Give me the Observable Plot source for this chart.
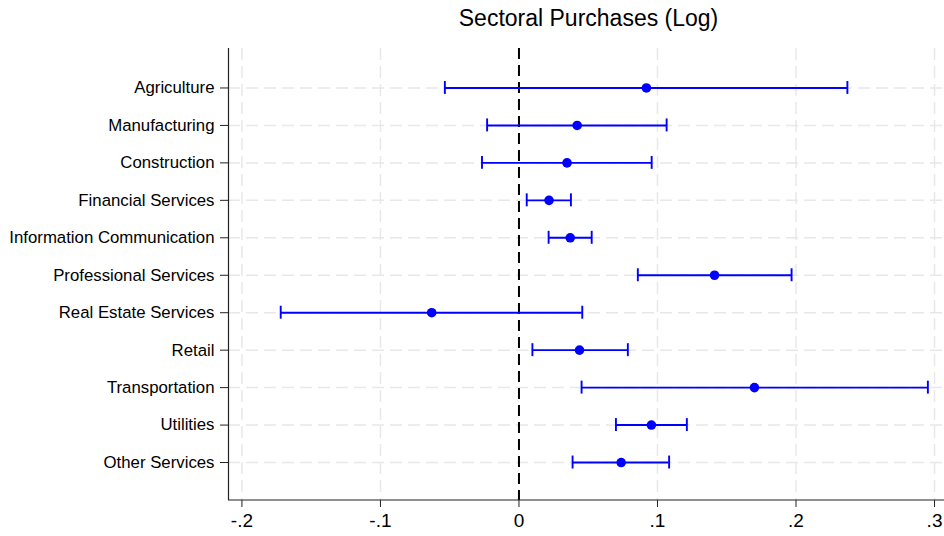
<!DOCTYPE html>
<html>
<head>
<meta charset="utf-8">
<script src="https://cdn.jsdelivr.net/npm/d3@7"></script>
<script src="https://cdn.jsdelivr.net/npm/@observablehq/plot@0.6"></script>
<style>
  html, body { margin: 0; padding: 0; background: #fff; }
  #chart svg { display: block; }
</style>
</head>
<body>
<div id="chart"></div>
<script>
const title = "Sectoral Purchases (Log)";
const sectors = ["Agriculture", "Manufacturing", "Construction", "Financial Services",
  "Information Communication", "Professional Services", "Real Estate Services",
  "Retail", "Transportation", "Utilities", "Other Services"];
const estimates = [0.092, 0.042, 0.0347, 0.0217, 0.037, 0.1412, -0.063, 0.0437, 0.170, 0.0956, 0.0738];
const lower = [-0.0535, -0.023, -0.0267, 0.0056, 0.0214, 0.0858, -0.172, 0.0097, 0.0452, 0.070, 0.0387];
const upper = [0.2371, 0.1066, 0.0958, 0.0375, 0.0525, 0.1968, 0.0457, 0.0786, 0.2952, 0.1212, 0.1084];
const xTicks = [-0.2, -0.1, 0, 0.1, 0.2, 0.3];
const xTickLabels = ["-.2", "-.1", "0", ".1", ".2", ".3"];

const data = sectors.map((s, i) => ({sector: s, est: estimates[i], lo: lower[i], hi: upper[i]}));
const labelOf = new Map(xTicks.map((t, i) => [t, xTickLabels[i]]));
const blue = "#0000ff";
const gridColor = "#e8e8e8";
const axisColor = "#222";
const step = 37.5;
const capInset = step / 2 - 6.5;
const xDomain = [-0.2097, 0.3072];

const chart = Plot.plot({
  width: 944,
  height: 536,
  marginTop: 48,
  marginBottom: 36,
  marginLeft: 228,
  marginRight: 0,
  style: {fontFamily: "'Liberation Sans', Arial, Helvetica, sans-serif", background: "#fff", color: "#000"},
  x: {domain: xDomain},
  y: {type: "band", domain: sectors, range: [87.5 - step / 2, 462 + step / 2], padding: 0, round: false},
  marks: [
    Plot.gridX(xTicks.filter(t => t !== 0), {stroke: gridColor, strokeOpacity: 1, strokeWidth: 1.5, strokeDasharray: "12,6"}),
    Plot.gridY(sectors, {stroke: gridColor, strokeOpacity: 1, strokeWidth: 1.5, strokeDasharray: "12,6"}),
    Plot.ruleX([0], {stroke: "#000", strokeWidth: 2, strokeDasharray: "11,6"}),
    Plot.ruleY(data, {y: "sector", x1: "lo", x2: "hi", stroke: blue, strokeWidth: 1.9}),
    Plot.tickX(data, {x: "lo", y: "sector", stroke: blue, strokeWidth: 1.9, insetTop: capInset, insetBottom: capInset}),
    Plot.tickX(data, {x: "hi", y: "sector", stroke: blue, strokeWidth: 1.9, insetTop: capInset, insetBottom: capInset}),
    Plot.dot(data, {x: "est", y: "sector", r: 4.8, fill: blue, stroke: null}),
    Plot.ruleX([xDomain[0]], {stroke: axisColor, strokeWidth: 1.2}),
    Plot.ruleY([sectors[sectors.length - 1]], {stroke: axisColor, strokeWidth: 1.2, dy: step}),
    Plot.axisY({tickSize: 8, tickPadding: 6, fontSize: 16.8, label: null, stroke: axisColor}),
    Plot.axisX({ticks: xTicks, tickFormat: d => labelOf.get(d), tickSize: 7, tickPadding: 6, fontSize: 19, label: null, stroke: axisColor}),
    Plot.text([title], {frameAnchor: "top", dy: -30, dx: 2, fontSize: 23, lineAnchor: "middle", fill: "#000"})
  ]
});
document.getElementById("chart").appendChild(chart);
</script>
</body>
</html>
